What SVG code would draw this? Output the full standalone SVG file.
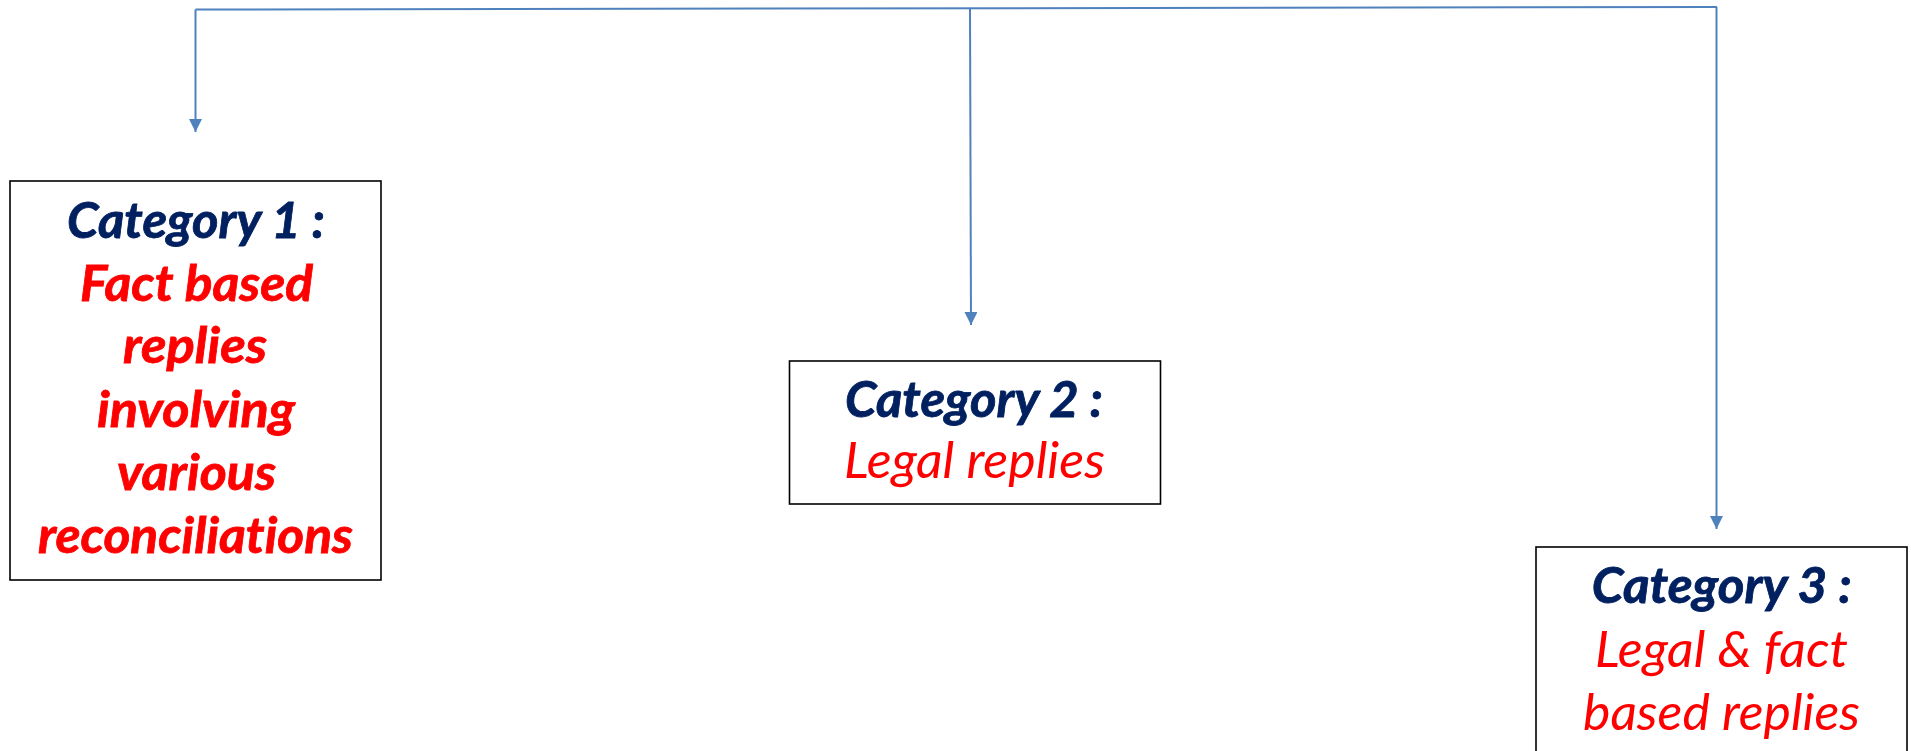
<svg xmlns="http://www.w3.org/2000/svg" width="1911" height="751" viewBox="0 0 1911 751">
  <style>
    .box { fill: #ffffff; stroke: #000000; stroke-width: 1.6; }
    .wire { fill: none; stroke: #4F81BD; stroke-width: 2; }
    .t { font-family: Lato, "Open Sans", "Liberation Sans", sans-serif; font-size: 50px; font-style: italic; text-anchor: middle; font-variant-ligatures: none; font-feature-settings: "liga" 0, "dlig" 0; }
    .head { font-weight: bold; fill: #002060; stroke: #002060; stroke-width: 0.8; }
    .red { fill: #FF0000; }
    .bold { font-weight: bold; stroke: #FF0000; stroke-width: 0.8; }
  </style>
  <defs>
    <marker id="arrow" viewBox="0 0 12 12" markerUnits="userSpaceOnUse" markerWidth="13" markerHeight="13" refX="12" refY="6" orient="auto">
      <path d="M0,0 L12,6 L0,12 Z" fill="#4F81BD"/>
    </marker>
  </defs>

  <rect width="1911" height="751" fill="#ffffff"/>

  <!-- connectors: one bus line with three drops -->
  <g id="connectors">
    <line class="wire" x1="195.5" y1="9.5" x2="1717" y2="7"/>
    <line class="wire" x1="195.5" y1="9.5" x2="195.5" y2="132" marker-end="url(#arrow)"/>
    <line class="wire" x1="970" y1="8" x2="971" y2="325" marker-end="url(#arrow)"/>
    <line class="wire" x1="1716.5" y1="7" x2="1716.5" y2="529" marker-end="url(#arrow)"/>
  </g>

  <g id="category1">
    <rect class="box" x="10" y="181" width="371" height="399"/>
    <text class="t head" x="196" y="238" textLength="258" lengthAdjust="spacingAndGlyphs">Category 1 :</text>
    <text class="t red bold" x="196.5" y="301" textLength="233" lengthAdjust="spacingAndGlyphs">Fact based</text>
    <text class="t red bold" x="195" y="363" textLength="144" lengthAdjust="spacingAndGlyphs">replies</text>
    <text class="t red bold" x="196" y="427" textLength="198" lengthAdjust="spacingAndGlyphs">involving</text>
    <text class="t red bold" x="196.5" y="490" textLength="159" lengthAdjust="spacingAndGlyphs">various</text>
    <text class="t red bold" x="195.5" y="553" textLength="315" lengthAdjust="spacingAndGlyphs">reconciliations</text>
  </g>

  <g id="category2">
    <rect class="box" x="789.5" y="361" width="371" height="143"/>
    <text class="t head" x="974" y="417" textLength="258" lengthAdjust="spacingAndGlyphs">Category 2 :</text>
    <text class="t red" x="974.5" y="478" textLength="261" lengthAdjust="spacingAndGlyphs">Legal replies</text>
  </g>

  <g id="category3">
    <rect class="box" x="1536" y="547" width="371" height="220"/>
    <text class="t head" x="1721.7" y="603" textLength="260" lengthAdjust="spacingAndGlyphs">Category 3 :</text>
    <text class="t red" x="1721.5" y="667" textLength="253" lengthAdjust="spacingAndGlyphs">Legal &amp; fact</text>
    <text class="t red" x="1721.5" y="730" textLength="277" lengthAdjust="spacingAndGlyphs">based replies</text>
  </g>
</svg>
